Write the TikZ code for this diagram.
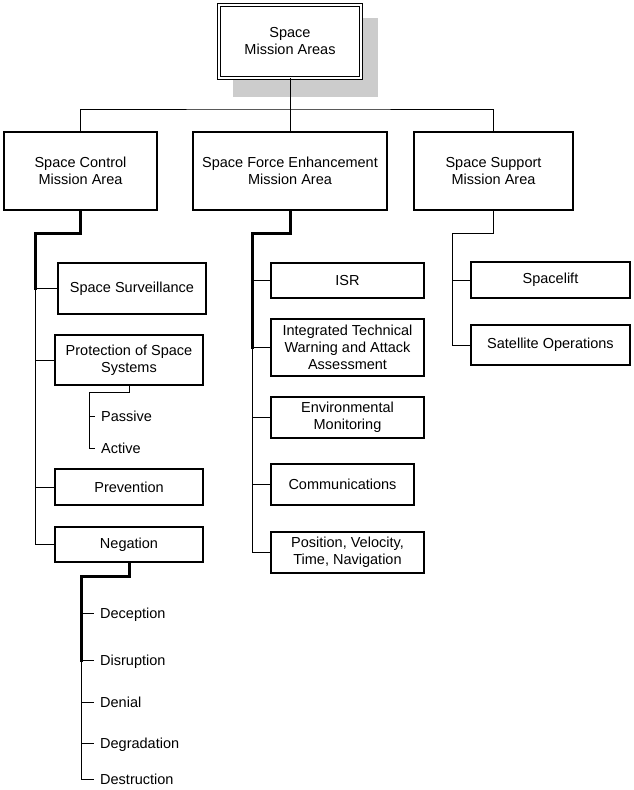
\documentclass[tikz,border=0pt]{standalone}
\usepackage{fontspec}
\setmainfont{Liberation Sans}
\usepackage{xcolor}
\usepackage{tikz}

\begin{document}
\begin{tikzpicture}[x=1pt,y=-1pt,
    box/.style={draw,line width=1.1pt,fill=white,align=center,inner sep=0pt,
      font=\fontsize{14.5}{17}\selectfont},
    leaf/.style={anchor=west,inner xsep=6pt,inner ysep=0pt,text height=10.5pt,
      text depth=0pt,font=\fontsize{14.5}{17}\selectfont},
    link/.style={line width=1pt},
    trunk/.style={line width=3pt,line cap=rect}]
  \useasboundingbox (0,0) rectangle (633,790);

  % top box with its shadow
  \fill[black!20] (233,18) rectangle (378,97);
  \node[box,double,double distance=1.6pt,line width=0.9pt,minimum width=142pt,
    minimum height=73pt] (top) at (290,41.5) {Space\\Mission Areas};

  % mission areas
  \node[box,minimum width=153pt,minimum height=78pt] (sc) at (80.5,171)
    {Space Control\\Mission Area};
  \node[box,minimum width=194pt,minimum height=78pt] (sfe) at (290,171)
    {Space Force Enhancement\\Mission Area};
  \node[box,minimum width=159pt,minimum height=78pt] (ssup) at (493.5,171)
    {Space Support\\Mission Area};

  \coordinate (bar) at (290,109);
  \draw[link] (top.south) -- (sfe.north);
  \draw[link] (sc.north) |- (bar) -| (ssup.north);

  % space control
  \node[box,minimum width=148pt,minimum height=51pt] (surv) at (132,288.5) {Space Surveillance};
  \node[box,minimum width=148pt,minimum height=50pt] (prot) at (129,360) {Protection of Space\\Systems};
  \node[box,minimum width=148pt,minimum height=36pt] (prev) at (129,487) {Prevention};
  \node[box,minimum width=148pt,minimum height=35pt] (neg) at (129,544.5) {Negation};

  \coordinate (scbus) at (35,233);
  \draw[trunk] (sc.south) |- (scbus) -- (scbus |- surv.west);
  \draw[link] (scbus |- surv.west) -- (scbus |- neg.west) -- (neg.west);
  \foreach \n in {surv,prot,prev}
    \draw[link] (scbus |- \n.west) -- (\n.west);

  \node[leaf] (pas) at (95,416) {Passive};
  \node[leaf] (act) at (95,448) {Active};
  \coordinate (protbus) at (89,392);
  \draw[link] (prot.south) |- (protbus) -- (protbus |- act.west) -- (act.west);
  \draw[link] (protbus |- pas.west) -- (pas.west);

  \node[leaf] (dec) at (94,613) {Deception};
  \node[leaf] (dis) at (94,660) {Disruption};
  \node[leaf] (den) at (94,702) {Denial};
  \node[leaf] (deg) at (94,743) {Degradation};
  \node[leaf] (des) at (94,779) {Destruction};
  \coordinate (negbus) at (81,576);
  \draw[trunk] (neg.south) |- (negbus) -- (negbus |- dis.west);
  \draw[link] (negbus |- dis.west) -- (negbus |- des.west) -- (des.west);
  \foreach \n in {dec,dis,den,deg}
    \draw[link] (negbus |- \n.west) -- (\n.west);

  % space force enhancement
  \node[box,minimum width=153pt,minimum height=35pt] (isr) at (347.5,280.5) {ISR};
  \node[box,minimum width=153pt,minimum height=57pt] (itw) at (347.5,347.5)
    {Integrated Technical\\Warning and Attack\\Assessment};
  \node[box,minimum width=153pt,minimum height=41pt] (env) at (347.5,417.5)
    {Environmental\\Monitoring};
  \node[box,minimum width=143pt,minimum height=41pt] (comm) at (342.5,484.5) {Communications};
  \node[box,minimum width=153pt,minimum height=41pt] (pvt) at (347.5,552.5)
    {Position, Velocity,\\Time, Navigation};

  \coordinate (sfebus) at (252,233);
  \draw[trunk] (sfe.south) |- (sfebus) -- (sfebus |- itw.west);
  \draw[link] (sfebus |- itw.west) -- (sfebus |- pvt.west) -- (pvt.west);
  \foreach \n in {isr,itw,env,comm}
    \draw[link] (sfebus |- \n.west) -- (\n.west);

  % space support
  \node[box,minimum width=159pt,minimum height=36pt] (lift) at (550.5,280) {Spacelift};
  \node[box,minimum width=159pt,minimum height=40pt] (satops) at (550.5,345) {Satellite Operations};

  \coordinate (ssbus) at (452,233);
  \draw[link] (ssup.south) |- (ssbus) -- (ssbus |- satops.west) -- (satops.west);
  \draw[link] (ssbus |- lift.west) -- (lift.west);
\end{tikzpicture}
\end{document}
